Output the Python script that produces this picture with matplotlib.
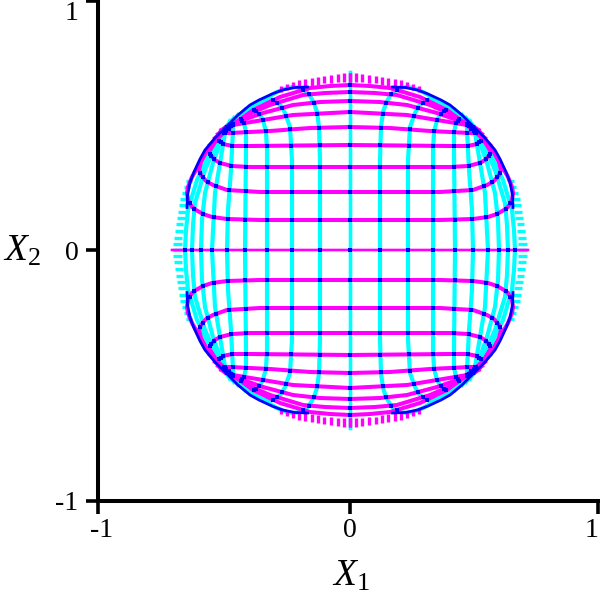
import matplotlib
matplotlib.use('Agg')
import matplotlib.pyplot as plt
import matplotlib.transforms as mtrans
import numpy as np

plt.rcParams['font.family'] = ['Liberation Serif', 'DejaVu Serif']
plt.rcParams['mathtext.fontset'] = 'custom'
plt.rcParams['mathtext.it'] = 'Liberation Serif:italic'
plt.rcParams['mathtext.rm'] = 'Liberation Serif'

# first quadrant trajectories
curve1_x = [0, .36, .492, .552, .588, .616, .632, .648, .652, .648, .632, .6, .564, .52]
curve1_y = [.12, .12, .124, .132, .144, .16, .172, .2, .228, .252, .292, .348, .412, .468]
curve2_x = [0, .36, .492, .548, .574, .596, .604, .596, .572, .532, .505]
curve2_y = [.232, .232, .24, .26, .274, .3, .32, .352, .4, .448, .478]
curve3_x = [0, .4, .472, .52, .54, .558, .564, .552, .528, .502]
curve3_y = [.332, .332, .336, .348, .36, .38, .392, .412, .45, .48]
curve4_x = [0, .4, .468, .5, .525, .53, .522, .5]
curve4_y = [.42, .416, .416, .422, .436, .45, .462, .484]
curve5_x = [0, .16, .32, .48, .512, .52, .5]
curve5_y = [.492, .488, .476, .468, .468, .472, .49]
curve6_x = [0, .228, .348, .468, .515]
curve6_y = [.552, .54, .52, .5, .48]
curve7_x = [0, .12, .228, .348, .428, .492, .528]
curve7_y = [.596, .592, .58, .548, .52, .488, .464]
curve8_x = [0, .1, .188, .32, .412, .492, .54]
curve8_y = [.632, .628, .62, .58, .54, .488, .448]
curve9_x = [0, .08, .16, .28, .388, .492, .56]
curve9_y = [.66, .656, .648, .612, .56, .48, .42]
axis_x = [0, .712]
axis_y = [0, 0]

# rim where both families run together
rim_x = [.17, .22, .27, .31, .364, .4, .448, .492, .54, .58, .6, .625, .64, .65, .652]
rim_y = [.652, .65, .64, .625, .6, .58, .54, .496, .448, .4, .364, .31, .27, .22, .17]

# short dashes on the outer circle
dash_pos = [0, .024, .048, .076, .104, .128, .152, .18, .204, .228, .252, .276]
dash_hi = [.708, .708, .704, .7, .696, .692, .688, .684, .68, .672, .664, .656]
dash_lo = [.672, .672, .672, .668, .668, .66, .656, .652, .648, .648, .64, .632]

tick_x = [-1.008, 0, .992]
tick_y = [-1.004, 0, .996]
tick_labels = ['-1', '0', '1']

curves = [(curve1_x, curve1_y), (curve2_x, curve2_y), (curve3_x, curve3_y),
          (curve4_x, curve4_y), (curve5_x, curve5_y), (curve6_x, curve6_y),
          (curve7_x, curve7_y), (curve8_x, curve8_y), (curve9_x, curve9_y)]


def crossings(ax_, ay_, bx_, by_):
    # where two polylines cross
    found = []
    for i in range(len(ax_) - 1):
        for j in range(len(bx_) - 1):
            d1 = np.array([ax_[i + 1] - ax_[i], ay_[i + 1] - ay_[i]])
            d2 = np.array([bx_[j + 1] - bx_[j], by_[j + 1] - by_[j]])
            den = d1[0] * d2[1] - d1[1] * d2[0]
            if abs(den) < 1e-9:
                continue
            wx, wy = bx_[j] - ax_[i], by_[j] - ay_[i]
            t = (wx * d2[1] - wy * d2[0]) / den
            u = (wx * d1[1] - wy * d1[0]) / den
            if 0 <= t <= 1 and 0 <= u <= 1:
                found.append((ax_[i] + t * d1[0], ay_[i] + t * d1[1]))
    return found


fig = plt.figure(figsize=(6, 6), dpi=100)
ax = fig.add_axes([98 / 600, 99 / 600, 500 / 600, 501 / 600])
ax.set_xlim(-1.008, .992)
ax.set_ylim(-1.004, 1.0)

signs = [(1, 1), (-1, 1), (1, -1), (-1, -1)]

# cyan family: same shapes with the axes swapped
for sx, sy in signs:
    for cx, cy in curves:
        ax.plot(sx * np.array(cy), sy * np.array(cx), color='#00ffff', lw=3.0, zorder=2,
                solid_joinstyle='round')
    ax.plot(sx * np.array(axis_y), sy * np.array(axis_x), color='#00ffff', lw=2.4, zorder=2)
    ax.hlines(sy * np.array(dash_pos), sx * np.array(dash_lo), sx * np.array(dash_hi),
              color='#00ffff', lw=2.4, zorder=2)

# magenta family
for sx, sy in signs:
    for cx, cy in curves:
        ax.plot(sx * np.array(cx), sy * np.array(cy), color='#ff00ff', lw=2.9, zorder=3,
                solid_joinstyle='round')
    ax.plot(sx * np.array(axis_x), sy * np.array(axis_y), color='#ff00ff', lw=1.7, zorder=3)
    ax.vlines(sx * np.array(dash_pos), sy * np.array(dash_lo), sy * np.array(dash_hi),
              color='#ff00ff', lw=2.4, zorder=3)

# blue where the two families overlap
pts = []
for mx, my in curves + [(axis_x, axis_y)]:
    for cx, cy in curves + [(axis_x, axis_y)]:
        pts += crossings(mx, my, cy, cx)
pts = np.array(pts)
for sx, sy in signs:
    ax.scatter(sx * pts[:, 0], sy * pts[:, 1], marker='s', s=9, color='#0000ff',
               linewidths=0, zorder=4)
    ax.plot(sx * np.array(rim_x), sy * np.array(rim_y), color='#0000ff', lw=2.0, zorder=4)

for side in ['top', 'right']:
    ax.spines[side].set_visible(False)
for side in ['left', 'bottom']:
    ax.spines[side].set_linewidth(2.9)

ax.set_xticks(tick_x)
ax.set_xticklabels(tick_labels)
ax.set_yticks(tick_y)
ax.set_yticklabels(tick_labels)
ax.tick_params(axis='both', length=9, width=2.6, labelsize=20)
ax.tick_params(axis='x', pad=3)
ax.tick_params(axis='y', pad=5)
for t in ax.get_xticklines() + ax.get_yticklines():
    t.set_clip_on(False)

# end labels sit inside the tick span
xl = ax.get_xticklabels()
yl = ax.get_yticklabels()
xl[0].set_transform(xl[0].get_transform() + mtrans.ScaledTranslation(4 / 100, 0, fig.dpi_scale_trans))
xl[2].set_transform(xl[2].get_transform() + mtrans.ScaledTranslation(-6 / 100, 0, fig.dpi_scale_trans))
yl[2].set_transform(yl[2].get_transform() + mtrans.ScaledTranslation(0, -9 / 100, fig.dpi_scale_trans))

fig.text(351 / 600, 1 - 586 / 600, r'$\mathit{X}_{1}$', fontsize=27, ha='center', va='baseline')
fig.text(22 / 600, 1 - 261 / 600, r'$\mathit{X}_{2}$', fontsize=27, ha='center', va='baseline')

fig.savefig('out.png', dpi=100)
plt.close(fig)
